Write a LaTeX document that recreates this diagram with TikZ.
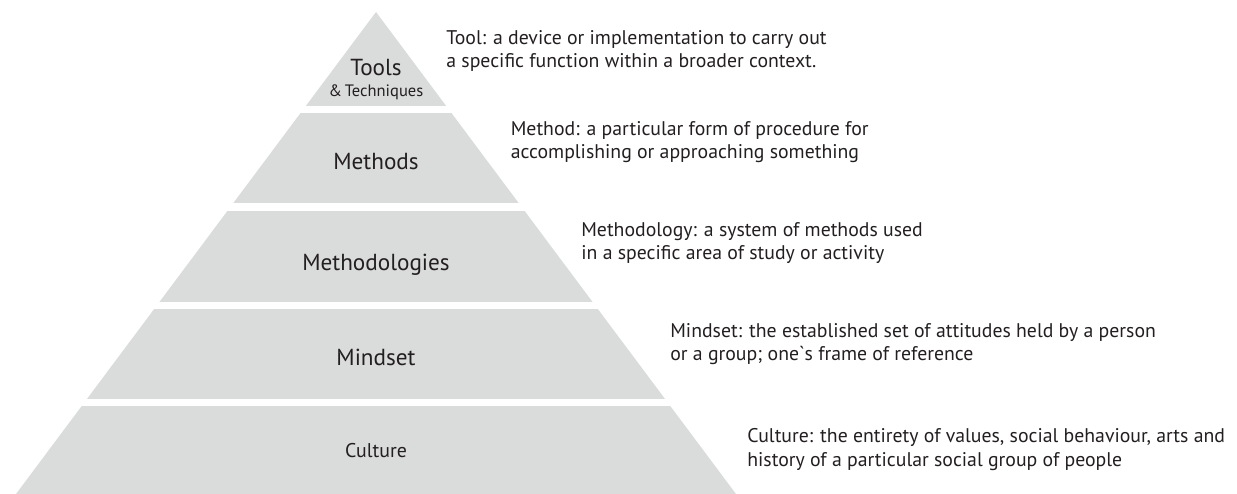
\documentclass[tikz,border=0pt]{standalone}
\usepackage{fontspec}
\setmainfont{PT Sans}
\definecolor{layergray}{RGB}{218,219,219}
\definecolor{inkblack}{RGB}{35,31,32}
\tikzset{
    layer/.style={fill=layergray},
    gap/.style={fill=white},
    levelname/.style={anchor=base, inner sep=0pt, text=inkblack, font=\fontsize{13.2}{15}\selectfont},
    levelnote/.style={anchor=base west, inner sep=0pt, align=left, text=inkblack, font=\fontsize{11.25}{13.1}\selectfont}
}
\begin{document}
\begin{tikzpicture}
        \useasboundingbox (0,0) rectangle (24.74,-9.88);
        %pyramid
        \fill[layer] (7.52,-0.24) -- (0.32,-9.88) -- (14.72,-9.88) -- cycle;
        \fill[gap] (0,-2.12) rectangle (15,-2.26);
        \fill[gap] (0,-4.06) rectangle (15,-4.22);
        \fill[gap] (0,-6.04) rectangle (15,-6.18);
        \fill[gap] (0,-7.98) rectangle (15,-8.12);
        %level names
        \node[levelname] (tools) at (7.52,-1.52) {Tools};
        \node[levelname, font=\fontsize{9.4}{11}\selectfont] (techniques) at (7.52,-1.94) {\&\,Techniques};
        \node[levelname] (methods) at (7.52,-3.40) {Methods};
        \node[levelname] (methodologies) at (7.52,-5.42) {Methodologies};
        \node[levelname] (mindset) at (7.52,-7.30) {Mindset};
        \node[levelname, font=\fontsize{11.3}{13}\selectfont] (culture) at (7.52,-9.14) {Culture};
        %definitions (anchored on the second line)
        \node[levelnote] (tooldef) at (8.92,-1.35) {Tool: a device or implementation to carry out\\a specific function within a broader context.};
        \node[levelnote] (methoddef) at (10.21,-3.18) {Method: a particular form of procedure for\\accomplishing or approaching something};
        \node[levelnote] (methodologydef) at (11.62,-5.20) {Methodology: a system of methods used\\in a specific area of study or activity};
        \node[levelnote] (mindsetdef) at (13.40,-7.22) {Mindset: the established set of attitudes held by a person\\or a group; one{\addfontfeature{Ligatures=TeXOff}`}s frame of reference};
        \node[levelnote] (culturedef) at (14.94,-9.32) {Culture: the entirety of values, social behaviour, arts and\\history of a particular social group of people};
    \end{tikzpicture}
\end{document}
